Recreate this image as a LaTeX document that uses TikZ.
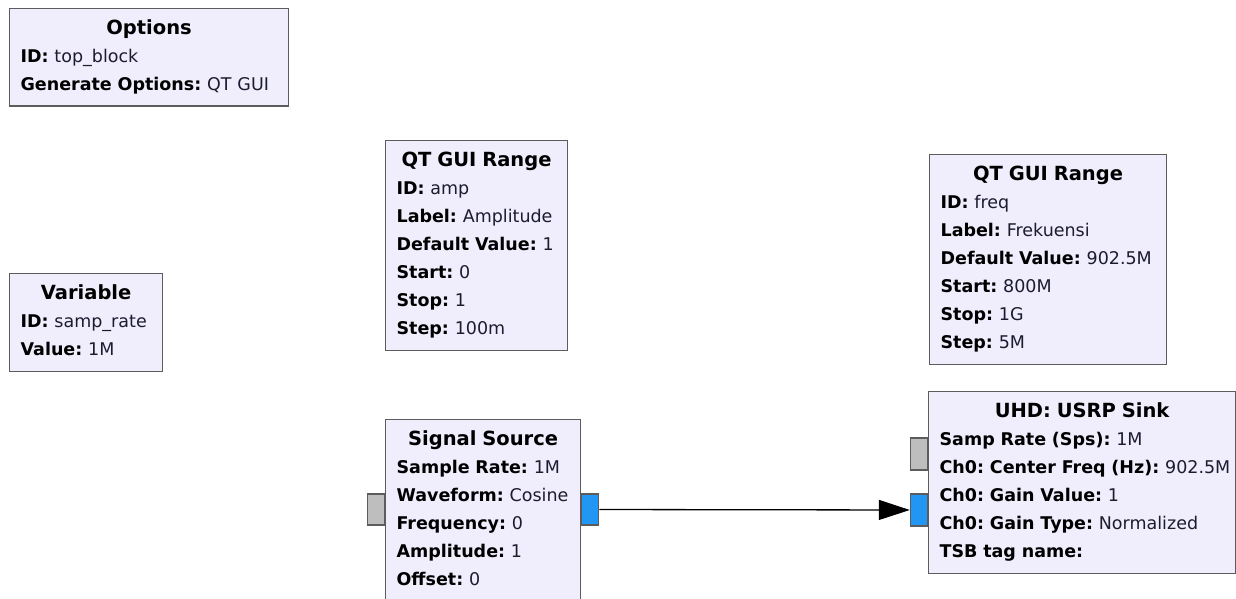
\documentclass[tikz,border=0pt]{standalone}
\usepackage{fontspec}
\setmainfont{DejaVu Sans}
\usepackage{tikz}
\usetikzlibrary{arrows.meta, positioning, calc}
\definecolor{blkFill}{RGB}{240,237,252}
\definecolor{blkLine}{RGB}{92,92,92}
\definecolor{portGray}{RGB}{190,190,190}
\definecolor{portBlue}{RGB}{33,150,243}
\definecolor{valTxt}{RGB}{28,28,48}
\frenchspacing
\newcommand{\lnstrut}{\rule[-9pt]{0pt}{28pt}}
\newcommand{\blktitle}[1]{\makebox[\hsize][c]{\lnstrut\fontsize{19.5}{28}\selectfont\bfseries #1}}
\newcommand{\kv}[2]{\mbox{\lnstrut\textbf{#1:} \textcolor{valTxt}{#2}}}
\tikzset{
	blk/.style ={rectangle, draw=blkLine, line width=1.2pt, fill=blkFill, anchor=north west, align=left, inner xsep=11pt, inner ysep=6.75pt, font=\fontsize{17.5}{28}\selectfont},
	port/.style={rectangle, draw=blkLine, line width=1.2pt, minimum width=17pt, minimum height=31pt, inner sep=0pt},
	sig/.style ={-{Triangle[length=31pt, width=20pt]}, line width=1.3pt, black},
}
\begin{document}
\begin{tikzpicture}[x=1pt, y=-1pt,
					inport/.style ={port, fill=portBlue, anchor=east},
					msgport/.style={port, fill=portGray, anchor=east},
					outport/.style={port, fill=portBlue, anchor=west}]
	\useasboundingbox (0,0) rectangle (1236,599);
	\clip (0,0) rectangle (1236,599);
	\fill[white] (0,0) rectangle (1236,599);
	% parameter blocks
	\node[blk, text width=257pt] (opts) at (9,8) {\blktitle{Options}\\ \kv{ID}{top\_block}\\ \kv{Generate Options}{QT GUI}};
	\node[blk, text width=131pt] (srate) at (9,273) {\blktitle{Variable}\\ \kv{ID}{samp\_rate}\\ \kv{Value}{1M}};
	\node[blk, text width=160pt] (amp) at (385,140) {\blktitle{QT GUI Range}\\ \kv{ID}{amp}\\ \kv{Label}{Amplitude}\\ \kv{Default Value}{1}\\ \kv{Start}{0}\\ \kv{Stop}{1}\\ \kv{Step}{100m}};
	\node[blk, text width=215pt] (freq) at (929,154) {\blktitle{QT GUI Range}\\ \kv{ID}{freq}\\ \kv{Label}{Frekuensi}\\ \kv{Default Value}{902.5M}\\ \kv{Start}{800M}\\ \kv{Stop}{1G}\\ \kv{Step}{5M}};
	% flow blocks
	\node[blk, text width=173pt] (src) at (385,419) {\blktitle{Signal Source}\\ \kv{Sample Rate}{1M}\\ \kv{Waveform}{Cosine}\\ \kv{Frequency}{0}\\ \kv{Amplitude}{1}\\ \kv{Offset}{0}};
	\node[blk, text width=285pt] (sink) at (928,391) {\blktitle{UHD: USRP Sink}\\ \kv{Samp Rate (Sps)}{1M}\\ \kv{Ch0: Center Freq (Hz)}{902.5M}\\ \kv{Ch0: Gain Value}{1}\\ \kv{Ch0: Gain Type}{Normalized}\\ \kv{TSB tag name}{}};
	% ports
	\node[msgport] (src-in) at ($(src.north west)+(0,90.5)$) {};
	\node[outport] (src-out) at ($(src.north east)+(0,90.5)$) {};
	\node[msgport, minimum height=32pt] (sink-msg) at ($(sink.north west)+(0,63)$) {};
	\node[inport, minimum height=32pt] (sink-in) at ($(sink.north west)+(0,119)$) {};
	\draw[sig] (src-out) -- (sink-in);
\end{tikzpicture}
\end{document}
